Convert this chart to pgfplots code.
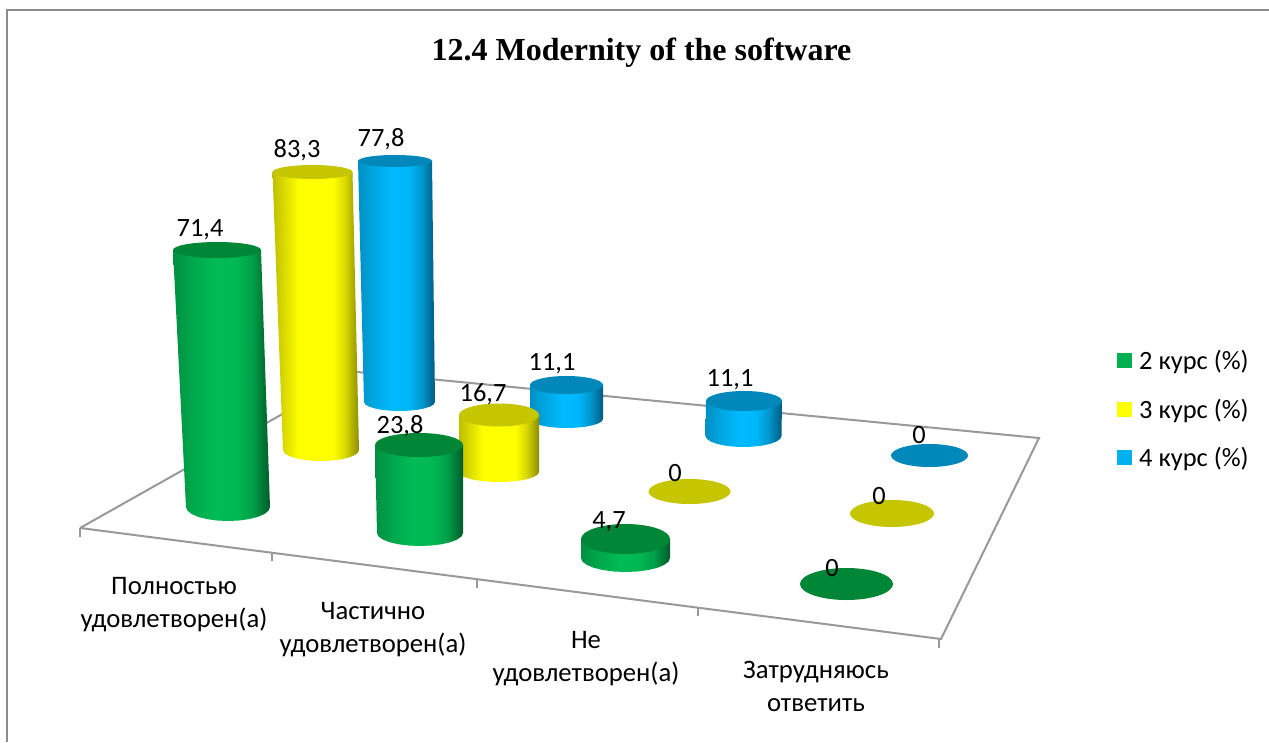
\documentclass[border=0pt]{standalone}
\usepackage{pgfplots}
\pgfplotsset{compat=1.18}
\usepackage{pgfplotstable}
\usepackage{fontspec}
\setmainfont{Carlito}
\newfontfamily\titlefont{Liberation Serif}
\definecolor{gA}{HTML}{008F42}\definecolor{gB}{HTML}{00A84C}\definecolor{gC}{HTML}{00BC55}\definecolor{gF}{HTML}{00B852}\definecolor{gG}{HTML}{009F48}\definecolor{gD}{HTML}{005A2A}\definecolor{gT}{HTML}{008637}
\definecolor{yA}{HTML}{BEBE00}\definecolor{yB}{HTML}{E0E000}\definecolor{yC}{HTML}{FFFF00}\definecolor{yG}{HTML}{D8D800}\definecolor{yD}{HTML}{8C8C00}\definecolor{yT}{HTML}{C6C600}
\definecolor{bA}{HTML}{0090C4}\definecolor{bB}{HTML}{00A6E0}\definecolor{bC}{HTML}{00BAFF}\definecolor{bF}{HTML}{00B6FA}\definecolor{bG}{HTML}{0099D0}\definecolor{bD}{HTML}{005A80}\definecolor{bT}{HTML}{0088BA}
\definecolor{lgG}{HTML}{00B050}\definecolor{lgY}{HTML}{FFFF00}\definecolor{lgB}{HTML}{00B0F0}
\definecolor{frame}{HTML}{8C8C8C}
\definecolor{floorline}{HTML}{999999}
\pgfdeclarehorizontalshading{cylg}{100bp}{color(0bp)=(gA);color(25bp)=(gA);color(35bp)=(gB);color(47bp)=(gC);color(58bp)=(gF);color(66bp)=(gG);color(75bp)=(gD);color(100bp)=(gD)}
\pgfdeclarehorizontalshading{cyly}{100bp}{color(0bp)=(yA);color(25bp)=(yA);color(33bp)=(yB);color(40bp)=(yC);color(60bp)=(yC);color(67bp)=(yG);color(75bp)=(yD);color(100bp)=(yD)}
\pgfdeclarehorizontalshading{cylb}{100bp}{color(0bp)=(bA);color(25bp)=(bA);color(35bp)=(bB);color(47bp)=(bC);color(58bp)=(bF);color(66bp)=(bG);color(75bp)=(bD);color(100bp)=(bD)}
\pgfdeclareplotmark{discfill}{\pgfpathcircle{\pgfpointorigin}{\pgfplotmarksize}\pgfusepathqfill}
\pgfdeclareplotmark{squarefill}{\pgfpathrectangle{\pgfqpoint{-\pgfplotmarksize}{-\pgfplotmarksize}}{\pgfpoint{2\pgfplotmarksize}{2\pgfplotmarksize}}\pgfusepathqfill}
% #1 series letter; top centre, rx, ry; bottom centre, rx, ry
\newcommand\cyl[9]{%
  \addplot[draw=none,shading=cyl#1] coordinates {
    ({#2-#4},#3) ({#6-#8},#7)
    ({#6-.966*#8},{#7+.259*#9}) ({#6-.866*#8},{#7+.5*#9}) ({#6-.707*#8},{#7+.707*#9})
    ({#6-.5*#8},{#7+.866*#9}) ({#6-.259*#8},{#7+.966*#9}) (#6,{#7+#9})
    ({#6+.259*#8},{#7+.966*#9}) ({#6+.5*#8},{#7+.866*#9}) ({#6+.707*#8},{#7+.707*#9})
    ({#6+.866*#8},{#7+.5*#9}) ({#6+.966*#8},{#7+.259*#9})
    ({#6+#8},#7) ({#2+#4},#3)} --cycle;
  \addplot[only marks,mark=discfill,mark size=1pt,mark options={fill=#1T,xscale=#4,yscale=#5}] coordinates {(#2,#3)};
}
\newcommand\disc[5]{%
  \addplot[only marks,mark=discfill,mark size=1pt,mark options={fill=#1T,xscale=#4,yscale=#5}] coordinates {(#2,#3)};
}
\pgfplotstableread{
x y label
200 230 71,4
297 150 83,3
381 139 77,8
400 426 23,8
483 394 16,7
552 364 11,1
730 380 11,1
609 522 4,7
675 473 0
919 435 0
879 496 0
832 568 0
}\valuelabels
\begin{document}
\begin{tikzpicture}
\begin{axis}[scale only axis,width=1269pt,height=742pt,xmin=0,xmax=1269,ymin=0,ymax=742,y dir=reverse,hide axis,clip=true]
\addplot[draw=none,fill=white] coordinates {(0,0) (1269,0) (1269,742) (0,742)} --cycle;
% chart frame
\addplot[frame,line width=2pt] coordinates {(7,742) (7,10) (1269,10)};
% floor
\addplot[floorline,line width=2pt] coordinates {(80,528) (357,372) (1039,438) (941,639) (80,528)};
\addplot[floorline,line width=1.5pt] coordinates {(80,528) (80,537)};
\addplot[floorline,line width=1.5pt] coordinates {(272,553) (272,561)};
\addplot[floorline,line width=1.5pt] coordinates {(477,579) (477,588)};
\addplot[floorline,line width=1.5pt] coordinates {(698,608) (698,616)};
\addplot[floorline,line width=1.5pt] coordinates {(939,639) (939,648)};
% cylinders, back to front
\cyl{b}{395}{161}{37}{6}{399.5}{402}{35.5}{9}
\cyl{b}{566.5}{385}{36.5}{9}{566.5}{419}{36.5}{9}
\cyl{b}{744}{401}{38}{10}{743.5}{436}{38}{11}
\disc{b}{929.5}{455.5}{38.5}{11.5}
\cyl{y}{312.5}{172}{40}{7}{321}{450}{38}{11}
\cyl{y}{499}{415}{40}{11.5}{499}{472}{40}{10}
\disc{y}{689.5}{491.5}{41}{12.5}
\disc{y}{892}{513.5}{42}{13.5}
\cyl{g}{217}{250}{44}{8}{228}{507}{42}{14}
\cyl{g}{419}{445}{44}{12}{420}{533}{43}{13}
\cyl{g}{625.5}{539}{44.5}{15}{625.5}{558}{44.5}{14}
\disc{g}{846.5}{584}{46.5}{16}
% value labels
\addplot[draw=none,mark=none,nodes near coords,point meta=explicit symbolic,
  every node near coord/.append style={anchor=center,inner sep=0pt,font=\fontsize{26.4}{30}\selectfont,text=black}]
  table[x=x,y=y,meta=label] {\valuelabels};
% legend
\addplot[only marks,mark=squarefill,mark size=7.5pt,mark options={fill=lgG}] coordinates {(1124.5,360.5)};
\addplot[only marks,mark=squarefill,mark size=7.5pt,mark options={fill=lgY}] coordinates {(1124.5,409.5)};
\addplot[only marks,mark=squarefill,mark size=7.5pt,mark options={fill=lgB}] coordinates {(1124.5,457.5)};
\node[anchor=west,inner sep=0pt,font=\fontsize{26.4}{30}\selectfont] at (axis cs:1139,362) {2 курс (\%)};
\node[anchor=west,inner sep=0pt,font=\fontsize{26.4}{30}\selectfont] at (axis cs:1139,411) {3 курс (\%)};
\node[anchor=west,inner sep=0pt,font=\fontsize{26.4}{30}\selectfont] at (axis cs:1139,459) {4 курс (\%)};
% category labels
\node[align=center,inner sep=0pt,font=\fontsize{26.7}{33}\selectfont] at (axis cs:174,605) {Полностью\\удовлетворен(а)};
\node[align=center,inner sep=0pt,font=\fontsize{26.7}{33}\selectfont] at (axis cs:373,630) {Частично\\удовлетворен(а)};
\node[align=center,inner sep=0pt,font=\fontsize{26.7}{33}\selectfont] at (axis cs:586,659) {Не\\удовлетворен(а)};
\node[align=center,inner sep=0pt,font=\fontsize{26.7}{33}\selectfont] at (axis cs:816,686) {Затрудняюсь\\ответить};
% title
\node[inner sep=0pt,font=\titlefont\bfseries\fontsize{32}{36}\selectfont] at (axis cs:641.5,53) {12.4 Modernity of the software};
\end{axis}
\end{tikzpicture}
\end{document}
